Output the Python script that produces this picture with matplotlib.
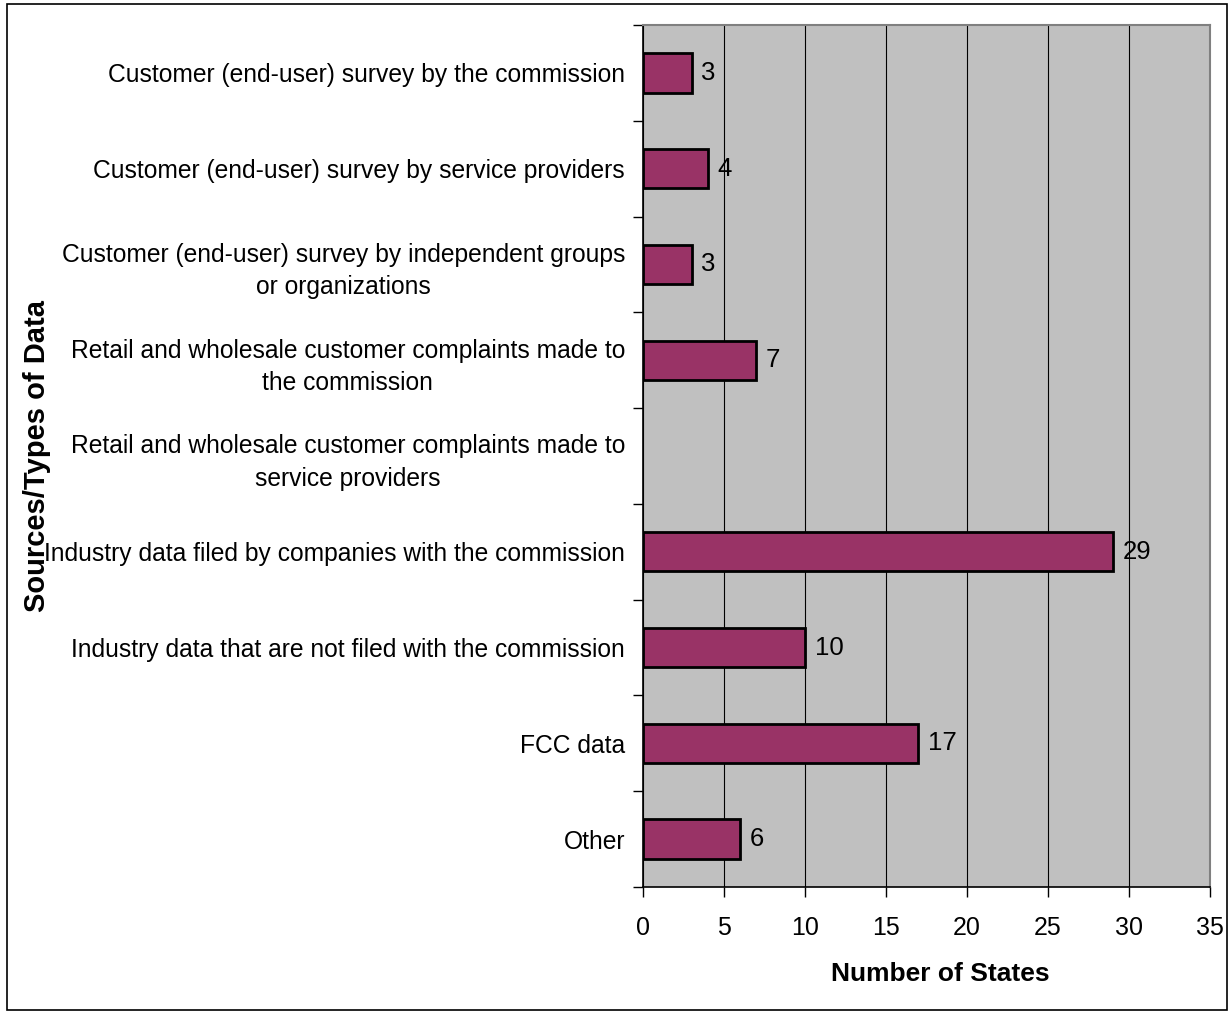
import matplotlib
matplotlib.use("Agg")
import matplotlib.pyplot as plt
from matplotlib.patches import Rectangle
import numpy as np

plt.rcParams['font.family'] = ['Liberation Sans', 'DejaVu Sans']

# Survey responses: sources of service-quality data used by state commissions
categories = [
    "Customer (end-user) survey by the commission",
    "Customer (end-user) survey by service providers",
    "Customer (end-user) survey by independent groups\nor organizations",
    "Retail and wholesale customer complaints made to\nthe commission",
    "Retail and wholesale customer complaints made to\nservice providers",
    "Industry data filed by companies with the commission",
    "Industry data that are not filed with the commission",
    "FCC data",
    "Other",
]
states = [3, 4, 3, 7, 0, 29, 10, 17, 6]
x_ticks = [0, 5, 10, 15, 20, 25, 30, 35]

fig = plt.figure(figsize=(12.31, 10.14), dpi=100)
ax = fig.add_axes([643 / 1231, 127 / 1014, 567 / 1231, 862 / 1014])

n = len(categories)
ypos = np.arange(n)

ax.set_facecolor('#C0C0C0')
edges = ['black' if v > 0 else 'none' for v in states]
ax.barh(ypos, states, height=0.41, color='#993366', edgecolor=edges,
        linewidth=2, zorder=3)

for y, v in zip(ypos, states):
    if v > 0:
        ax.text(v + 0.6, y, str(v), va='center', ha='left', fontsize=18.5, zorder=4)

ax.set_xlim(0, 35)
ax.set_ylim(n - 0.5, -0.5)
ax.set_xticks(x_ticks)
ax.xaxis.grid(True, color='black', linewidth=0.8, zorder=1)
ax.set_axisbelow(True)

# category labels centred on bars, tick marks between categories
ax.set_yticks(ypos)
ax.set_yticklabels(categories, fontsize=17.75, multialignment='center',
                   linespacing=1.45)
ax.tick_params(axis='y', which='major', length=0, pad=13)
ax.set_yticks(np.arange(n + 1) - 0.5, minor=True)
ax.tick_params(axis='y', which='minor', length=7, width=1, direction='out')
ax.tick_params(axis='x', length=7, width=1, direction='out', pad=14,
               labelsize=18)

for side in ['top', 'right']:
    ax.spines[side].set_color('#808080')
    ax.spines[side].set_linewidth(1.5)
for side in ['left', 'bottom']:
    ax.spines[side].set_color('black')
    ax.spines[side].set_linewidth(1.2)

ax.set_xlabel('Number of States', fontsize=19, fontweight='bold')
ax.xaxis.set_label_coords(0.524, -0.087)
ax.set_ylabel('Sources/Types of Data', fontsize=21, fontweight='bold')
ax.yaxis.set_label_coords(-1.044, 0.5)

# outer frame around the whole chart
fig.patches.append(Rectangle((7 / 1231, 4 / 1014), 1220 / 1231, 1006 / 1014,
                             transform=fig.transFigure, fill=False,
                             edgecolor='black', linewidth=1.2))

fig.savefig('out.png', dpi=100, facecolor='white')
